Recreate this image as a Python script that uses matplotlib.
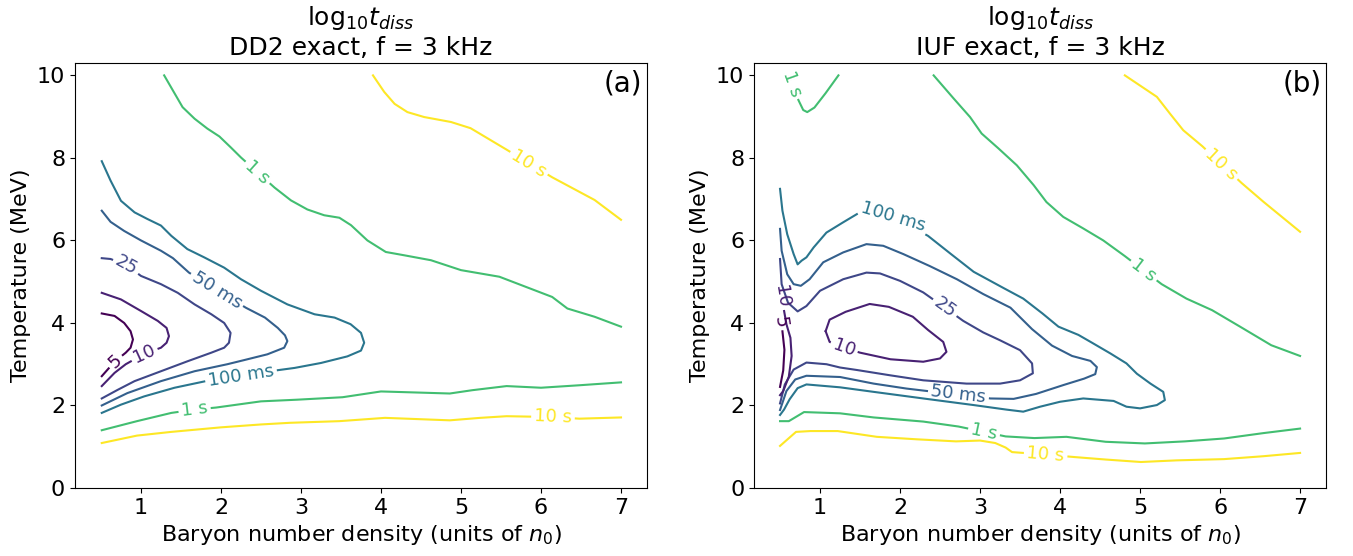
import numpy as np
import matplotlib
matplotlib.use("Agg")
import matplotlib.pyplot as plt
from matplotlib import cm
from matplotlib.colors import Normalize

# contour levels (seconds) and the inline label used for each
LEVELS = [0.005, 0.01, 0.025, 0.05, 0.1, 1.0, 10.0]
LEVEL_TEXT = ["5", "10", "25", "50 ms", "100 ms", "1 s", "10 s"]

# ── panel (a): DD2 — contour lines ────────────────────────────────────────────
A_10S_HI_X = [3.90, 4.04, 4.17, 4.33, 4.54, 4.875, 5.12, 5.57, 6.14, 6.67, 7.00]
A_10S_HI_Y = [10.0, 9.60, 9.31, 9.11, 8.99, 8.87, 8.72, 8.20, 7.53, 6.98, 6.50]

A_1S_HI_X = [1.29, 1.52, 1.67, 1.83, 1.98, 2.125, 2.25, 2.67, 2.875, 3.08, 3.29,
             3.48, 3.625, 3.83, 4.06, 4.29, 4.625, 5.00, 5.48, 6.14, 6.33, 6.67,
             7.00]
A_1S_HI_Y = [10.0, 9.23, 8.95, 8.71, 8.52, 8.25, 8.01, 7.28, 6.97, 6.75, 6.61,
             6.55, 6.37, 6.00, 5.72, 5.64, 5.52, 5.28, 5.12, 4.63, 4.35, 4.15,
             3.91]

A_100_X = [0.51, 0.62, 0.75, 0.92, 1.08, 1.25, 1.38, 1.58, 1.79, 2.04, 2.25,
           2.50, 2.83, 3.17, 3.42, 3.62, 3.75, 3.79, 3.75, 3.58, 3.25, 2.92,
           2.69, 2.25, 1.81, 1.42, 1.04, 0.75, 0.51]
A_100_Y = [7.92, 7.45, 6.96, 6.68, 6.52, 6.36, 6.11, 5.79, 5.59, 5.34, 5.06,
           4.78, 4.45, 4.21, 4.13, 3.97, 3.76, 3.52, 3.33, 3.19, 3.03, 2.91,
           2.85, 2.72, 2.59, 2.43, 2.22, 2.02, 1.82]

A_50_X = [0.51, 0.62, 0.79, 1.00, 1.25, 1.40, 1.60, 1.95, 2.31, 2.55, 2.71,
          2.80, 2.83, 2.79, 2.58, 2.29, 2.08, 1.67, 1.25, 0.83, 0.51]
A_50_Y = [6.72, 6.45, 6.23, 6.00, 5.75, 5.57, 5.22, 4.80, 4.37, 4.13, 3.88,
          3.70, 3.56, 3.40, 3.24, 3.10, 3.00, 2.83, 2.59, 2.30, 2.00]

A_25_X = [0.51, 0.62, 0.82, 1.00, 1.25, 1.46, 1.67, 1.88, 2.04, 2.12, 2.10,
          2.04, 1.88, 1.58, 1.25, 0.92, 0.71, 0.51]
A_25_Y = [5.57, 5.55, 5.40, 5.14, 4.94, 4.73, 4.45, 4.21, 4.00, 3.76, 3.52,
          3.40, 3.28, 3.07, 2.83, 2.59, 2.38, 2.17]

A_10_X = [0.51, 0.75, 1.00, 1.21, 1.32, 1.35, 1.32, 1.25, 1.04, 0.81, 0.67, 0.51]
A_10_Y = [4.73, 4.57, 4.29, 4.05, 3.88, 3.68, 3.52, 3.40, 3.25, 3.00, 2.79, 2.47]

A_5_X = [0.51, 0.67, 0.79, 0.87, 0.90, 0.87, 0.81, 0.67, 0.51]
A_5_Y = [4.23, 4.17, 4.00, 3.80, 3.60, 3.40, 3.28, 3.06, 2.71]

A_1S_LO_X = [0.51, 0.95, 1.38, 1.67, 1.94, 2.50, 2.95, 3.52, 4.00, 4.52, 4.86,
             5.14, 5.57, 6.00, 6.48, 7.00]
A_1S_LO_Y = [1.40, 1.62, 1.82, 1.90, 1.95, 2.10, 2.14, 2.20, 2.34, 2.31, 2.29,
             2.37, 2.47, 2.43, 2.49, 2.56]

A_10S_LO_X = [0.51, 0.95, 1.38, 2.00, 2.50, 2.86, 3.48, 4.05, 4.86, 5.24, 5.57,
              6.14, 6.48, 7.00]
A_10S_LO_Y = [1.09, 1.27, 1.36, 1.47, 1.54, 1.58, 1.62, 1.70, 1.64, 1.70, 1.74,
              1.72, 1.68, 1.71]

A_LAB_X = [5.85, 2.46, 2.25, 1.95, 0.82, 1.04, 0.68, 1.67, 6.15]
A_LAB_Y = [7.87, 7.65, 2.73, 4.80, 5.40, 3.25, 3.07, 1.90, 1.72]

# ── panel (b): IUF ────────────────────────────────────────────────────────────
B_1S_TL_X = [0.62, 0.66, 0.73, 0.79, 0.84, 0.93, 1.07, 1.23]
B_1S_TL_Y = [10.0, 9.75, 9.40, 9.16, 9.11, 9.22, 9.57, 10.0]

B_1S_R_X = [2.42, 2.67, 2.875, 3.02, 3.23, 3.46, 3.67, 3.83, 4.04, 4.29, 4.54,
            4.81, 5.27, 5.58, 5.90, 6.25, 6.64, 7.00]
B_1S_R_Y = [10.0, 9.44, 8.99, 8.59, 8.23, 7.82, 7.34, 6.93, 6.57, 6.29, 6.00,
            5.62, 4.94, 4.59, 4.31, 3.91, 3.46, 3.20]

B_10S_R_X = [4.81, 5.21, 5.375, 5.54, 5.78, 6.27, 6.54, 7.00]
B_10S_R_Y = [10.0, 9.48, 9.07, 8.67, 8.28, 7.39, 6.94, 6.21]

B_100_X = [0.50, 0.53, 0.59, 0.67, 0.72, 0.77, 0.83, 0.92, 1.08, 1.29, 1.48,
           1.92, 2.35, 2.63, 2.92, 3.29, 3.54, 3.78, 3.98, 4.23, 4.40, 4.63,
           4.83, 4.96, 5.13, 5.29, 5.31, 5.21, 5.00, 4.83, 4.67, 4.29, 4.00,
           3.75, 3.54, 3.33, 2.92, 2.29, 1.67, 1.25, 0.83, 0.72, 0.62, 0.55, 0.50]
B_100_Y = [7.25, 6.72, 6.15, 5.67, 5.42, 5.51, 5.59, 5.83, 6.19, 6.44, 6.66,
           6.57, 6.11, 5.68, 5.24, 4.85, 4.59, 4.23, 3.91, 3.71, 3.52, 3.26,
           3.02, 2.77, 2.53, 2.33, 2.13, 2.01, 1.93, 1.97, 2.11, 2.17, 2.09,
           1.97, 1.85, 1.90, 2.01, 2.17, 2.33, 2.44, 2.51, 2.42, 2.15, 1.90, 1.77]

B_50_X = [0.50, 0.52, 0.59, 0.67, 0.76, 0.87, 1.04, 1.29, 1.58, 1.79, 2.04,
          2.37, 2.71, 3.04, 3.38, 3.65, 3.90, 4.15, 4.38, 4.46, 4.44, 4.30,
          4.05, 3.70, 3.42, 3.13, 2.73, 2.08, 1.67, 1.25, 0.83, 0.69, 0.58, 0.50]
B_50_Y = [6.28, 5.75, 5.18, 4.94, 4.90, 5.06, 5.47, 5.71, 5.91, 5.87, 5.67,
          5.38, 5.06, 4.70, 4.37, 3.85, 3.45, 3.20, 3.08, 2.93, 2.76, 2.65,
          2.50, 2.28, 2.16, 2.17, 2.26, 2.41, 2.53, 2.69, 2.72, 2.63, 2.35, 1.89]

B_25_X = [0.50, 0.52, 0.60, 0.72, 0.83, 1.00, 1.29, 1.58, 1.75, 2.00, 2.29,
          2.56, 2.79, 3.04, 3.25, 3.50, 3.65, 3.66, 3.50, 3.25, 2.83, 2.29,
          1.88, 1.46, 1.25, 1.08, 0.83, 0.67, 0.56, 0.50]
B_25_Y = [5.55, 4.94, 4.49, 4.28, 4.41, 4.78, 5.06, 5.22, 5.20, 5.02, 4.74,
          4.37, 4.05, 3.77, 3.58, 3.34, 3.02, 2.78, 2.61, 2.53, 2.53, 2.61,
          2.73, 2.86, 2.92, 3.00, 3.04, 2.87, 2.51, 2.05]

B_10L_X = [1.07, 1.12, 1.32, 1.62, 1.86, 2.16, 2.35, 2.54, 2.58, 2.50, 2.29,
           1.88, 1.50, 1.30, 1.12, 1.07]
B_10L_Y = [3.80, 4.08, 4.27, 4.46, 4.39, 4.15, 3.83, 3.54, 3.30, 3.14, 3.06,
           3.12, 3.28, 3.40, 3.54, 3.80]

B_10E_X = [0.50, 0.52, 0.55, 0.58, 0.63, 0.645, 0.61, 0.54, 0.50]
B_10E_Y = [4.95, 4.60, 4.30, 3.97, 3.64, 3.20, 2.70, 2.35, 2.25]

B_5E_X = [0.50, 0.51, 0.53, 0.555, 0.54, 0.50]
B_5E_Y = [4.25, 4.00, 3.80, 3.35, 2.85, 2.45]

B_1S_LO_X = [0.50, 0.61, 0.80, 1.25, 1.67, 2.29, 2.73, 3.05, 3.32, 3.68, 4.08,
             4.57, 5.06, 5.56, 6.05, 6.54, 7.00]
B_1S_LO_Y = [1.62, 1.62, 1.84, 1.81, 1.71, 1.61, 1.49, 1.36, 1.25, 1.21, 1.24,
             1.12, 1.08, 1.13, 1.20, 1.33, 1.44]

B_10S_LO_X = [0.50, 0.70, 0.88, 1.22, 1.71, 2.21, 2.70, 3.00, 3.19, 3.32, 3.40,
              3.82, 4.18, 4.57, 5.01, 5.46, 6.05, 6.54, 7.00]
B_10S_LO_Y = [1.02, 1.36, 1.38, 1.38, 1.24, 1.18, 1.13, 1.15, 1.09, 0.98, 0.87,
              0.81, 0.75, 0.69, 0.63, 0.67, 0.70, 0.77, 0.85]

B_LAB_X = [0.66, 5.05, 6.02, 1.92, 2.73, 2.56, 1.30, 0.50, 0.51, 3.05, 3.82]
B_LAB_Y = [9.80, 5.28, 7.85, 6.57, 2.26, 4.37, 3.40, 4.65, 4.03, 1.36, 0.81]

A_LINES = [
    (10.0, A_10S_HI_X, A_10S_HI_Y), (1.0, A_1S_HI_X, A_1S_HI_Y),
    (0.1, A_100_X, A_100_Y), (0.05, A_50_X, A_50_Y), (0.025, A_25_X, A_25_Y),
    (0.01, A_10_X, A_10_Y), (0.005, A_5_X, A_5_Y),
    (1.0, A_1S_LO_X, A_1S_LO_Y), (10.0, A_10S_LO_X, A_10S_LO_Y),
]
B_LINES = [
    (1.0, B_1S_TL_X, B_1S_TL_Y), (1.0, B_1S_R_X, B_1S_R_Y),
    (10.0, B_10S_R_X, B_10S_R_Y), (0.1, B_100_X, B_100_Y),
    (0.05, B_50_X, B_50_Y), (0.025, B_25_X, B_25_Y), (0.01, B_10L_X, B_10L_Y),
    (0.01, B_10E_X, B_10E_Y), (0.005, B_5E_X, B_5E_Y),
    (1.0, B_1S_LO_X, B_1S_LO_Y), (10.0, B_10S_LO_X, B_10S_LO_Y),
]

LABEL_FS = 13
norm = Normalize(np.log10(LEVELS[0]), np.log10(LEVELS[-1]))

fig = plt.figure(figsize=(13.53, 5.56), dpi=100)
fig.patch.set_facecolor("white")
renderer = fig.canvas.get_renderer()


def cut_line(ax, xs, ys, lx, ly, gap):
    """Open a gap of `gap` pixels in the polyline around the label point."""
    tr = ax.transData
    P = tr.transform(np.column_stack([xs, ys]))
    L = tr.transform([lx, ly])
    seg = np.diff(P, axis=0)
    seglen = np.hypot(seg[:, 0], seg[:, 1])
    cum = np.concatenate([[0.0], np.cumsum(seglen)])
    t = np.clip(np.einsum("ij,ij->i", L - P[:-1], seg) / seglen ** 2, 0, 1)
    near = P[:-1] + t[:, None] * seg
    k = np.argmin(np.hypot(*(near - L).T))
    s0 = cum[k] + t[k] * seglen[k]

    def at(s):
        s = np.clip(s, 0, cum[-1])
        i = min(np.searchsorted(cum, s, side="right") - 1, len(seglen) - 1)
        return P[i] + (s - cum[i]) / seglen[i] * seg[i]

    a, b = s0 - gap / 2, s0 + gap / 2
    pa, pb = at(a), at(b)
    ang = np.degrees(np.arctan2(pb[1] - pa[1], pb[0] - pa[0]))
    if ang > 90:
        ang -= 180
    elif ang < -90:
        ang += 180
    pieces = []
    if a > 0:
        pieces.append(np.vstack([P[cum < a], pa]))
    if b < cum[-1]:
        pieces.append(np.vstack([pb, P[cum > b]]))
    inv = tr.inverted()
    return [inv.transform(p) for p in pieces], inv.transform(at(s0)), ang


def panel(rect, lines, lab_x, lab_y, title, tag):
    ax = fig.add_axes(rect)
    ax.set_xlim(0.175, 7.325)
    ax.set_ylim(0, 10.3)
    for (lev, xs, ys), lx, ly in zip(lines, lab_x, lab_y):
        color = cm.viridis(norm(np.log10(lev)))
        text = LEVEL_TEXT[LEVELS.index(lev)]
        probe = ax.text(0, 0, text, fontsize=LABEL_FS)
        w = probe.get_window_extent(renderer).width + 8
        probe.remove()
        pieces, (tx, ty), ang = cut_line(ax, xs, ys, lx, ly, w)
        for p in pieces:
            ax.plot(p[:, 0], p[:, 1], color=color, lw=1.5,
                    solid_joinstyle="round")
        ax.text(tx, ty, text, color=color, fontsize=LABEL_FS, rotation=ang,
                rotation_mode="anchor", ha="center", va="center")
    ax.set_xticks([1, 2, 3, 4, 5, 6, 7])
    ax.set_yticks([0, 2, 4, 6, 8, 10])
    ax.tick_params(labelsize=16)
    ax.set_xlabel("Baryon number density (units of $n_0$)", fontsize=16)
    ax.set_ylabel("Temperature (MeV)", fontsize=16)
    ax.set_title("$\\mathrm{log}_{10}t_{diss}$\n" + title, fontsize=18)
    ax.text(0.992, 0.985, tag, transform=ax.transAxes, ha="right", va="top",
            fontsize=20)
    return ax


panel([0.0554, 0.1223, 0.4228, 0.7644], A_LINES, A_LAB_X, A_LAB_Y,
      "DD2 exact, f = 3 kHz", "(a)")
panel([0.5573, 0.1223, 0.4228, 0.7644], B_LINES, B_LAB_X, B_LAB_Y,
      "IUF exact, f = 3 kHz", "(b)")

fig.savefig("out.png", dpi=100, facecolor="white")
